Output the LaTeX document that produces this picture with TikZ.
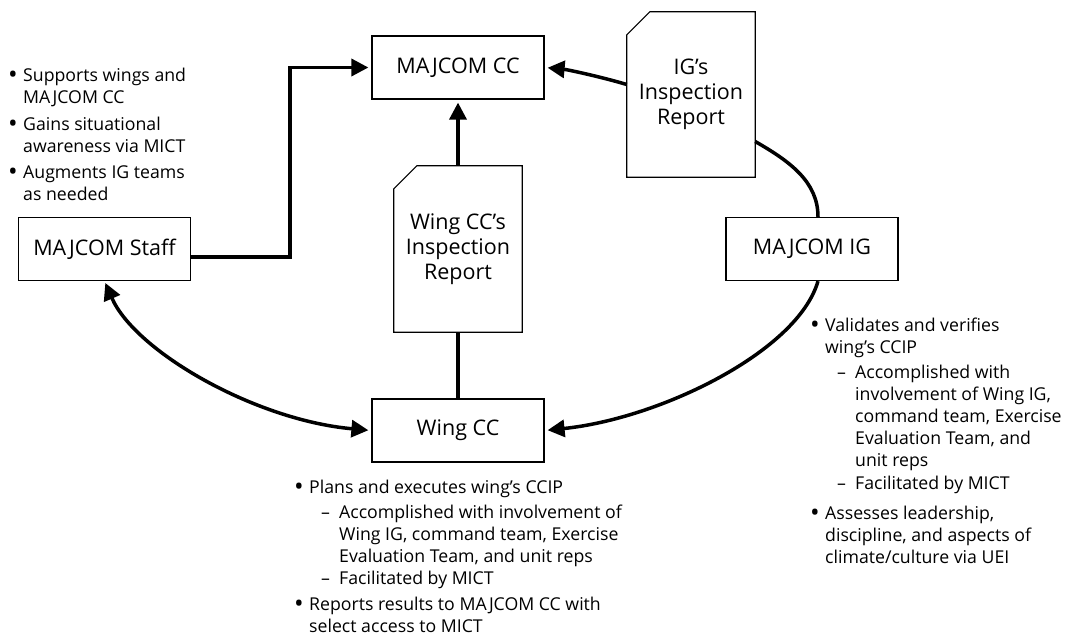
\documentclass[tikz,border=0pt]{standalone}
\usepackage{fontspec}
\setmainfont{Open Sans}
\usetikzlibrary{arrows.meta}
\newcommand\boxfont{\fontsize{21.5}{25}\selectfont}
\newcommand\notefont{\fontsize{17.7}{22}\selectfont}
\newcommand\bulsym{\raisebox{-0.12em}{\scalebox{1.45}{•}}}
\newcommand\bul[1]{\par\hangindent=15pt\hangafter=1\noindent\hbox to 15pt{\bulsym\hss}#1\par}
\newcommand\subl[1]{\par\hangindent=45pt\hangafter=1\noindent\hspace*{27pt}\hbox to 18pt{–\hss}#1\par}
\newenvironment{notelist}[1][3pt]{\begin{minipage}[t]{420pt}\notefont\raggedright\hyphenpenalty=10000\setlength{\parskip}{#1}}{\end{minipage}}
\begin{document}
\begin{tikzpicture}[x=1pt,y=1pt,
  box/.style={draw, line width=1.2pt, minimum width=172pt, minimum height=63pt, inner sep=0pt, font=\boxfont},
  docbox/.style={minimum width=128pt, inner sep=0pt, align=center, font=\boxfont},
  docline/.style={line width=1.2pt, line join=miter},
  conn/.style={line width=3.5pt, -{Triangle[length=17pt,width=17pt]}, shorten >=3pt},
  plain/.style={line width=3.5pt},
  note/.style={anchor=north west, inner sep=0pt}]
\useasboundingbox (0,0) rectangle (1072,-637);

\node[box] (majcc) at (458,-67.5) {MAJCOM CC};
\node[box] (staff) at (104.5,-249) {MAJCOM Staff};
\node[box] (migi) at (812,-249) {MAJCOM IG};
\node[box] (wingcc) at (458,-430.5) {Wing CC};

\node[docbox, minimum height=165pt] (igdoc) at (691,-94.5) {IG’s\\Inspection\\Report};
\draw[docline] ([xshift=23pt]igdoc.north west) -- (igdoc.north east) -- (igdoc.south east) -- (igdoc.south west) -- ([yshift=-23pt]igdoc.north west) -- cycle;

\node[docbox, minimum height=166pt] (wdoc) at (458,-249) {Wing CC’s\\Inspection\\Report};
\draw[docline] ([xshift=23pt]wdoc.north west) -- (wdoc.north east) -- (wdoc.south east) -- (wdoc.south west) -- ([yshift=-23pt]wdoc.north west) -- cycle;

% connectors
\draw[conn] ([yshift=-8pt]staff.east) -- ++(99,0) |- (majcc.west);
\draw[conn] (wdoc.north) -- (majcc.south);
\draw[plain] (wingcc.north) -- (wdoc.south);
\draw[conn] ([yshift=10pt]igdoc.west) .. controls +(-27,8) and +(22,-2) .. (majcc.east);
\draw[plain] ([yshift=-47pt]igdoc.east) .. controls +(35,-20) and +(0,35) .. ([xshift=6pt]migi.north);
\draw[conn] ([xshift=6pt]migi.south) .. controls +(-20,-70) and +(116,12) .. (wingcc.east);
\draw[{Triangle[length=17pt,width=17pt]}-{Triangle[length=17pt,width=17pt]}, line width=3.5pt, shorten >=3pt, shorten <=2pt] (staff.south) .. controls +(30.5,-70) and +(-117,10.5) .. (wingcc.west);

% notes
\node[note] (n1) at (8,-68) {\begin{notelist}[4.5pt]
\bul{Supports wings and\newline MAJCOM CC}
\bul{Gains situational\newline awareness via MICT}
\bul{Augments IG teams\newline as needed}
\end{notelist}};

\node[note] (n2) at (294,-480) {\begin{notelist}
\bul{Plans and executes wing’s CCIP}
\subl{Accomplished with involvement of\newline Wing IG, command team, Exercise\newline Evaluation Team, and unit reps}\vspace{-3pt}
\subl{Facilitated by MICT}\vspace{1pt}
\bul{Reports results to MAJCOM CC with\newline select access to MICT}
\end{notelist}};

\node[note] (n3) at (810,-318) {\begin{notelist}
\bul{Validates and verifies\newline wing’s CCIP}
\subl{Accomplished with\newline involvement of Wing IG,\newline command team, Exercise\newline Evaluation Team, and\newline unit reps}\vspace{-2pt}
\subl{Facilitated by MICT}\vspace{5pt}
\bul{Assesses leadership,\newline discipline, and aspects of\newline climate/culture via UEI}
\end{notelist}};
\end{tikzpicture}
\end{document}
